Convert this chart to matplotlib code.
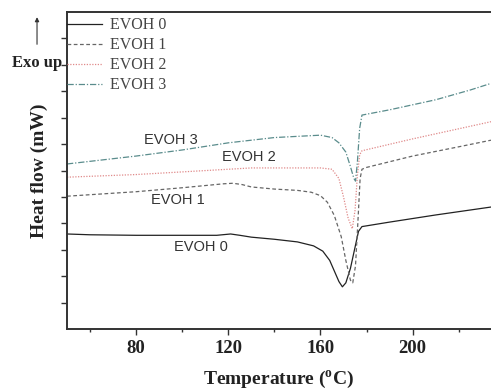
import matplotlib
matplotlib.use("Agg")
import matplotlib.pyplot as plt

# temperature (C) / heat flow (arbitrary, shifted)
t0 = [50, 60, 80, 100, 115, 121, 125, 130, 140, 150, 157, 161, 164, 166, 168, 169.5,
      171, 173, 175, 176.5, 178, 190, 210, 234]
h0 = [3.6, 3.57, 3.55, 3.55, 3.55, 3.6, 3.55, 3.48, 3.4, 3.3, 3.15, 2.95, 2.6, 2.2,
      1.8, 1.6, 1.75, 2.3, 3.1, 3.7, 3.88, 4.05, 4.32, 4.62]

t1 = [50, 80, 100, 118, 122, 126, 130, 140, 150, 156, 160, 163, 166, 169, 171, 173,
      174, 175.2, 176.2, 177.2, 178, 180, 200, 220, 234]
h1 = [5.03, 5.2, 5.35, 5.5, 5.52, 5.47, 5.38, 5.3, 5.25, 5.18, 5.05, 4.8, 4.3, 3.5,
      2.6, 1.85, 1.75, 2.4, 4.0, 5.7, 6.05, 6.12, 6.55, 6.9, 7.15]

t2 = [50, 80, 100, 130, 160, 165, 168, 170, 172, 173.8, 175, 176, 177, 178, 200, 234]
h2 = [5.75, 5.85, 5.95, 6.1, 6.1, 6.05, 5.7, 5.0, 4.2, 3.8, 4.5, 5.8, 6.6, 6.75, 7.2, 7.85]

t3 = [50, 80, 100, 120, 140, 160, 165, 168, 171, 173, 174.5, 175.2, 176, 177, 178,
      190, 210, 225, 234]
h3 = [6.25, 6.55, 6.78, 7.05, 7.25, 7.34, 7.25, 7.05, 6.7, 6.15, 5.7, 5.6, 6.3, 7.6,
      8.1, 8.3, 8.68, 9.05, 9.3]

names = ["EVOH 0", "EVOH 1", "EVOH 2", "EVOH 3"]
label_pos = [(108, 3.1), (98, 4.88), (129, 6.5), (95, 7.15)]

fig = plt.figure(figsize=(4.91, 3.89), dpi=100)
ax = fig.add_axes([0.1365, 0.154, 0.8635, 0.815])

ax.plot(t0, h0, color="#222222", lw=0.9, ls="-", label=names[0])
ax.plot(t1, h1, color="#666666", lw=0.9, ls=(0, (3, 2)), label=names[1])
ax.plot(t2, h2, color="#e08a8a", lw=0.9, ls=(0, (1, 1.2)), label=names[2])
ax.plot(t3, h3, color="#5a8c8c", lw=0.9, ls=(0, (5, 1.5, 1, 1.5)), label=names[3])

for name, (x, y) in zip(names, label_pos):
    ax.text(x, y, name, ha="center", va="center", fontsize=10.5,
            family="Liberation Sans", color="#333333")

ax.set_xlim(50, 234)
ax.set_ylim(0, 12)
ax.set_xticks([80, 120, 160, 200])
ax.set_xticks([60, 100, 140, 180, 220], minor=True)
ax.set_yticks(range(1, 12))
ax.set_yticklabels([])
ax.tick_params(axis="both", which="major", direction="out", length=4, width=1, color="#333333")
ax.tick_params(axis="x", which="minor", direction="out", length=2.5, width=1, color="#333333")
for lab in ax.get_xticklabels():
    lab.set_family("Liberation Serif")
    lab.set_fontweight("bold")
    lab.set_fontsize(13.5)
    lab.set_color("#222222")

for side in ["left", "bottom", "top"]:
    ax.spines[side].set_linewidth(1.4)
    ax.spines[side].set_color("#333333")
ax.spines["right"].set_visible(False)

ax.set_xlabel(r"Temperature ($\mathregular{^{o}}$C)", family="Liberation Serif",
              fontweight="bold", fontsize=14, labelpad=9, color="#222222")
ax.set_ylabel("Heat flow (mW)", family="Liberation Serif", fontweight="bold",
              fontsize=14, labelpad=6, color="#222222")

leg = ax.legend(loc="upper left", bbox_to_anchor=(0, 0.983), frameon=False,
                borderpad=0, borderaxespad=0, handlelength=2.2, handletextpad=0.5,
                labelspacing=0.25, prop={"family": "Liberation Serif", "size": 11.5})
for txt in leg.get_texts():
    txt.set_color("#444444")

fig.text(0.0754, 0.838, "Exo up", ha="center", va="center", family="Liberation Serif",
         fontweight="bold", fontsize=12, color="#222222")
fig.add_artist(matplotlib.patches.FancyArrowPatch((0.0754, 0.879), (0.0754, 0.963),
               transform=fig.transFigure, arrowstyle="-|>", mutation_scale=6,
               lw=0.8, color="#333333"))

fig.savefig("out.png", dpi=100)
